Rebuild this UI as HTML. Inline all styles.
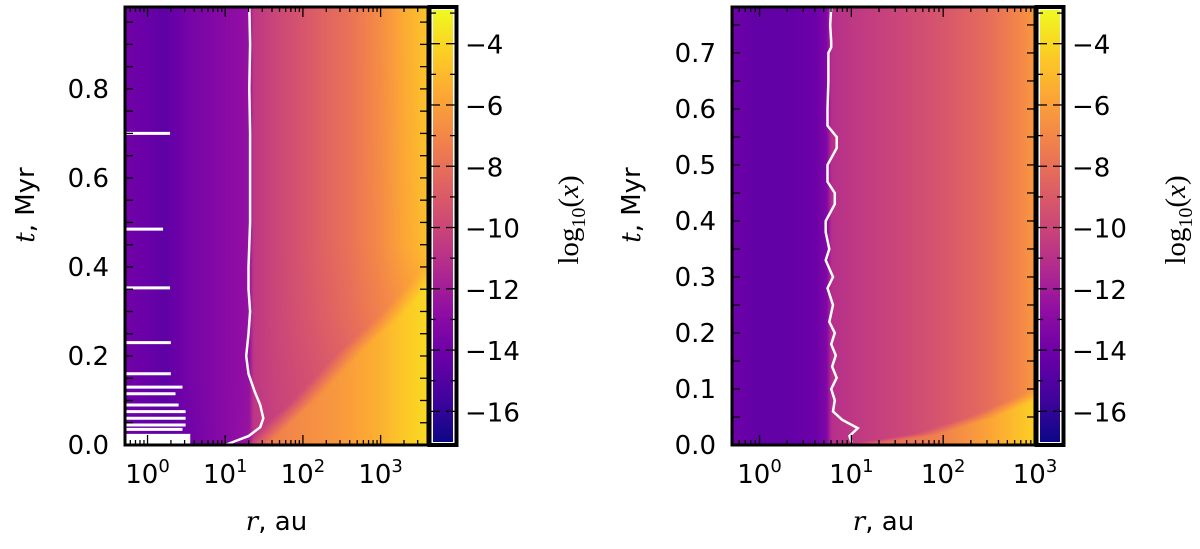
<!DOCTYPE html>
<html><head><meta charset="utf-8"><style>
html,body{margin:0;padding:0;background:#fff;}
body{width:1200px;height:549px;overflow:hidden;position:relative;font-family:"DejaVu Sans","Liberation Sans",sans-serif;}
canvas{position:absolute;}
svg{position:absolute;left:0;top:0;}
</style></head><body>
<canvas id="c1" width="303" height="438" style="left:125px;top:7px"></canvas>
<canvas id="c2" width="303" height="438" style="left:732px;top:7px"></canvas>
<canvas id="cb1" width="20" height="432" style="left:433px;top:10px"></canvas>
<canvas id="cb2" width="20" height="432" style="left:1040px;top:10px"></canvas>
<svg id="ov" width="1200" height="549"></svg>
<script>
// ---- data ----
const logRKnotsL = [-0.31,0,0.2,0.5,1.0,1.3,1.36,1.6,2,2.3,2.6,3,3.3,3.61];
const timesL = [0,0.15,0.3,0.45,0.98];
const gridL = [
 [-14.1,-14.3,-14.6,-14.0,-13.0,-12.4,-10.8,-10.3,-9.8,-9.4,-9.0,-8.5,-8.1,-7.9],
 [-13.9,-14.2,-14.6,-13.8,-13.0,-12.6,-10.7,-10.2,-9.6,-9.1,-8.6,-8.0,-7.6,-7.3],
 [-13.9,-14.2,-14.6,-13.8,-13.0,-12.6,-10.7,-10.1,-9.3,-8.7,-8.1,-7.2,-6.5,-5.8],
 [-13.9,-14.2,-14.6,-13.8,-13.0,-12.6,-10.7,-10.1,-9.2,-8.5,-7.9,-6.8,-5.7,-4.8],
 [-13.9,-14.2,-14.6,-13.8,-13.0,-12.6,-10.7,-10.1,-9.2,-8.5,-7.9,-6.7,-5.5,-4.6]
];
const wedgeTL = [0,0.02,0.1,0.21,0.29,0.4];
const wedgeBL = [1.4,1.5,2.0,2.6,3.1,3.7];
const wedgeKL = [1.4,2,2.5,3,3.3,3.61];
const wedgeVL = [-7.6,-6.8,-6.2,-5.3,-4.5,-3.9];
const logRKnotsR = [-0.3,0,0.3,0.6,0.72,0.78,1.0,1.5,2,2.5,2.8,3.0];
const timesR = [0,0.78];
const gridR = [
 [-14.0,-14.5,-14.4,-14.1,-13.4,-11.1,-10.7,-10,-9.2,-8.1,-7.1,-6.3],
 [-14.0,-14.5,-14.4,-14.1,-13.4,-11.1,-10.7,-10,-9.2,-8.1,-7.1,-6.3]
];
const wedgeTR = [0,0.02,0.05,0.09,0.14];
const wedgeBR = [1.0,1.8,2.4,3.0,3.5];
const wedgeKR = [1.0,2,2.5,3.0];
const wedgeVR = [-8.6,-7.2,-5.8,-4.2];
const contourTL = [0,0.01,0.02,0.04,0.06,0.09,0.12,0.16,0.2,0.25,0.3,0.35,0.4,0.5,0.6,0.7,0.8,0.9,0.984];
const contourRL = [1.0,1.15,1.3,1.45,1.49,1.45,1.38,1.3,1.27,1.3,1.32,1.3,1.3,1.32,1.32,1.32,1.31,1.32,1.31];
const contourTR = [0.005,0.016,0.03,0.045,0.06,0.08,0.1,0.12,0.14,0.16,0.18,0.2,0.22,0.25,0.28,0.3,0.33,0.35,0.38,0.4,0.43,0.45,0.47,0.5,0.53,0.55,0.57,0.6,0.65,0.7,0.71,0.72,0.75,0.782];
const contourRR = [1.0,0.98,1.07,0.9,0.8,0.82,0.78,0.84,0.79,0.83,0.78,0.82,0.76,0.8,0.74,0.8,0.72,0.76,0.72,0.72,0.82,0.82,0.74,0.74,0.84,0.84,0.74,0.74,0.75,0.75,0.78,0.78,0.77,0.78];
const dashTL = [0.70,0.485,0.353,0.23,0.16,0.13,0.115,0.09,0.075,0.06,0.045,0.035];
const dashRL = [0.29,0.2,0.29,0.3,0.3,0.45,0.36,0.4,0.49,0.49,0.49,0.45];
const yTicksL = [0.0,0.2,0.4,0.6,0.8];
const yTicksR = [0.0,0.1,0.2,0.3,0.4,0.5,0.6,0.7];
const cbTicks = [-4,-6,-8,-10,-12,-14,-16];
const xDecades = [0,1,2,3];

// ---- plasma ----
const P=[[13,8,135],[65,4,157],[106,0,168],[143,13,164],[177,42,144],[204,71,120],[225,100,98],[242,132,75],[252,166,54],[252,206,37],[240,249,33]];
function plasma(u){u=Math.max(0,Math.min(1,u));const s=u*(P.length-1);const i=Math.min(P.length-2,Math.floor(s));const f=s-i;return P[i].map((c,k)=>c+(P[i+1][k]-c)*f);}
const VMIN=-17,VMAX=-2.9;
function interp(xs,ys,x){if(x<=xs[0])return ys[0];for(let i=1;i<xs.length;i++){if(x<=xs[i]){const f=(x-xs[i-1])/(xs[i]-xs[i-1]);return ys[i-1]+(ys[i]-ys[i-1])*f;}}return ys[ys.length-1];}
function paint(id,knots,times,grid,wt,wb,wk,wv,lr0,lr1,tmax,soft){
 const c=document.getElementById(id),ctx=c.getContext('2d'),W=c.width,H=c.height;
 const img=ctx.createImageData(W,H);
 for(let y=0;y<H;y++){const t=(H-y)/H*tmax;
  let j=0;while(j<times.length-2&&t>times[j+1])j++;
  const ft=Math.max(0,Math.min(1,(t-times[j])/(times[j+1]-times[j])));
  const row=knots.map((_,k)=>grid[j][k]+(grid[j+1][k]-grid[j][k])*ft);
  const b=interp(wt,wb,t);
  const tf=t<=wt[wt.length-1]?1:Math.max(0,1-(t-wt[wt.length-1])/0.1);
  for(let x=0;x<W;x++){const lr=lr0+(lr1-lr0)*x/W;let v=interp(knots,row,lr);
   if(lr>b-soft){const e=Math.min(1,(lr-b+soft)/(2*soft))*tf;const w=interp(wk,wv,lr);if(w>v)v=v+(w-v)*e;}
   const col=plasma((v-VMIN)/(VMAX-VMIN));const p=(y*W+x)*4;img.data[p]=col[0];img.data[p+1]=col[1];img.data[p+2]=col[2];img.data[p+3]=255;}}
 ctx.putImageData(img,0,0);
}
paint('c1',logRKnotsL,timesL,gridL,wedgeTL,wedgeBL,wedgeKL,wedgeVL,-0.29,3.61,0.984,0.15);
paint('c2',logRKnotsR,timesR,gridR,wedgeTR,wedgeBR,wedgeKR,wedgeVR,-0.30,3.0,0.782,0.15);
function cbar(id){const c=document.getElementById(id),ctx=c.getContext('2d');for(let y=0;y<c.height;y++){const col=plasma(1-y/c.height);ctx.fillStyle=`rgb(${col[0]|0},${col[1]|0},${col[2]|0})`;ctx.fillRect(0,y,c.width,1);}}
cbar('cb1');cbar('cb2');

// ---- overlay ----
const NS='http://www.w3.org/2000/svg',ov=document.getElementById('ov');
function el(tag,a,txt){const e=document.createElementNS(NS,tag);for(const k in a)e.setAttribute(k,a[k]);if(txt!==undefined)e.textContent=txt;ov.appendChild(e);return e;}
function panel(o){
 const X=lr=>o.x0+(lr-o.lr0)/(o.lr1-o.lr0)*(o.x1-o.x0);
 const Y=t=>o.yb-t/o.tmax*(o.yb-o.yt);
 const pts=o.ct.map((t,i)=>X(o.cr[i]).toFixed(1)+','+Y(t).toFixed(1)).join(' ');
 const pl=el('polyline',{points:pts,fill:'none',stroke:'#fff','stroke-width':2.5});
 
 
 if(o.dt){o.dt.forEach((t,i)=>{const l=el('line',{x1:o.x0,x2:X(o.dr[i]),y1:Y(t),y2:Y(t),stroke:'#fff','stroke-width':3});
  
  });
  const b=el('rect',{x:o.x0,y:Y(0.025),width:X(0.55)-o.x0,height:Y(0)-Y(0.025),fill:'#fff'});
  
  }
 for(let d=-1;d<=3;d++)for(let m=1;m<10;m++){const lr=d+Math.log10(m);if(lr<o.lr0||lr>o.lr1+0.001)continue;const L=m==1?10:5;const x=X(lr);
  el('line',{x1:x,x2:x,y1:o.yb,y2:o.yb-L,stroke:'#000','stroke-width':1.3});el('line',{x1:x,x2:x,y1:o.yt,y2:o.yt+L,stroke:'#000','stroke-width':1.3});}
 xDecades.forEach(d=>{if(d>o.lr1+0.01)return;const t=el('text',{x:X(d),y:o.yb+38,'text-anchor':'middle','font-size':26});t.innerHTML='10<tspan dy="-11" font-size="18">'+d+'</tspan>';
  
  });
 for(let t=0;t<=o.tmax;t+=0.05){const y=Y(t);el('line',{x1:o.x0,x2:o.x0+8,y1:y,y2:y,stroke:'#000','stroke-width':1.3});el('line',{x1:o.x1,x2:o.x1-8,y1:y,y2:y,stroke:'#000','stroke-width':1.3});}
 o.yt2.forEach(v=>{const t=el('text',{x:o.x0-16,y:Y(v)+9,'text-anchor':'end','font-size':26},v.toFixed(1));
  
  });
 const fr=el('rect',{x:o.x0,y:o.yt,width:o.x1-o.x0,height:o.yb-o.yt,fill:'none',stroke:'#000','stroke-width':3});
 
 
 const cy=v=>o.cbTop+(VMAX-v)/(VMAX-VMIN)*(o.cbBot-o.cbTop);
 for(let v=-16;v<=-3;v++){const y=cy(v);el('line',{x1:o.cb0,x2:o.cb0+(v%2==0?9:5),y1:y,y2:y,stroke:'#000','stroke-width':1.3});el('line',{x1:o.cb1,x2:o.cb1-(v%2==0?9:5),y1:y,y2:y,stroke:'#000','stroke-width':1.3});}
 cbTicks.forEach(v=>{const t=el('text',{x:o.cb1+10,y:cy(v)+10,'font-size':26},'\u2212'+(-v));
  
  });
 const cf=el('rect',{x:o.cb0-1.5,y:o.yt,width:o.cb1-o.cb0+3,height:o.yb-o.yt,fill:'none',stroke:'#000','stroke-width':4});
 
 
 const cl=el('text',{x:o.cblx,y:220,'text-anchor':'middle','font-size':29,'font-family':'Liberation Serif, serif',transform:`rotate(-90 ${o.cblx} 220)`});
 cl.innerHTML='log<tspan dy="7" font-size="20">10</tspan><tspan dy="-7">(</tspan><tspan font-style="italic">x</tspan>)';
 
 
 const yl=el('text',{x:o.ylx,y:205,'text-anchor':'middle','font-size':26,transform:`rotate(-90 ${o.ylx} 205)`});
 yl.innerHTML='<tspan font-style="italic" font-family="DejaVu Serif, Liberation Serif, serif">t</tspan>, Myr';
 
 
 const xl=el('text',{x:(o.x0+o.x1)/2,y:530,'text-anchor':'middle','font-size':26});
 xl.innerHTML='<tspan font-style="italic" font-family="DejaVu Serif, Liberation Serif, serif">r</tspan>, au';
 
 
}
panel({x0:125,x1:428,yt:7,yb:445,lr0:-0.29,lr1:3.61,tmax:0.984,ct:contourTL,cr:contourRL,dt:dashTL,dr:dashRL,yt2:yTicksL,cb0:431,cb1:455,cbTop:10,cbBot:442,cblx:578,ylx:34});
panel({x0:732,x1:1035,yt:7,yb:445,lr0:-0.30,lr1:3.0,tmax:0.782,ct:contourTR,cr:contourRR,yt2:yTicksR,cb0:1038,cb1:1062,cbTop:10,cbBot:442,cblx:1185,ylx:640});
</script>
</body></html>
